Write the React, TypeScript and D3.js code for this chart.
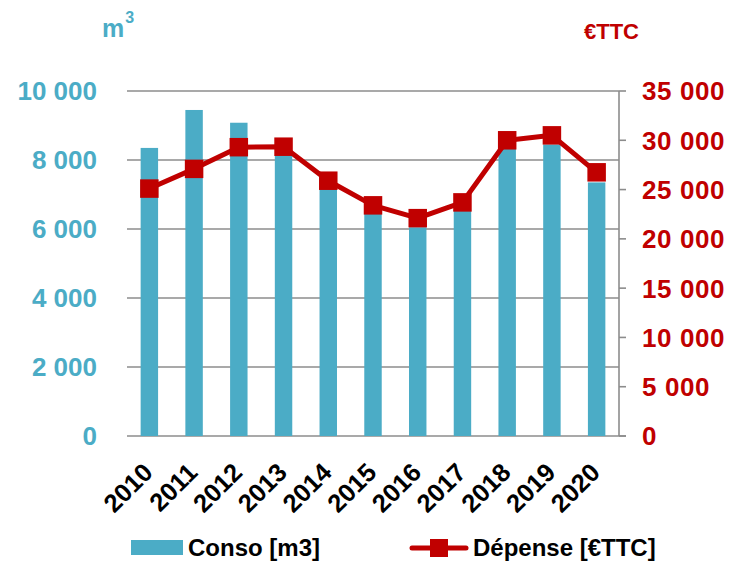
import * as d3 from "d3";
import { useEffect, useRef } from "react";

const years = ["2010", "2011", "2012", "2013", "2014", "2015", "2016", "2017", "2018", "2019", "2020"];
const conso = [8350, 9450, 9080, 8150, 7200, 6450, 6050, 6550, 8350, 8450, 7350];
const depense = [25100, 27100, 29300, 29350, 25900, 23400, 22100, 23700, 30000, 30500, 26750];
const leftTicks = [0, 2000, 4000, 6000, 8000, 10000];
const rightTicks = [0, 5000, 10000, 15000, 20000, 25000, 30000, 35000];

const BLUE = "#4BACC6";
const RED = "#C00000";
const GRAY = "#8c8c8c";
const FONT = "'Liberation Sans', Arial, sans-serif";

export default function App() {
  const ref = useRef<SVGSVGElement>(null);

  const width = 745;
  const height = 566;
  const left = 127;
  const right = 619;
  const top = 91;
  const bottom = 436;

  useEffect(() => {
    const svg = d3.select(ref.current);
    svg.selectAll("*").remove();

    const fmt = (v: number) => d3.format(",")(v).replace(/,/g, " ");

    const x = d3.scaleBand().domain(years).range([left, right]).paddingInner(0.61).paddingOuter(0.305);
    const yL = d3.scaleLinear().domain([0, 10000]).range([bottom, top]);
    const yR = d3.scaleLinear().domain([0, 35000]).range([bottom, top]);

    // grid lines (left axis)
    svg
      .append("g")
      .selectAll("line")
      .data(leftTicks)
      .join("line")
      .attr("x1", left)
      .attr("x2", (d) => (d === 0 ? right + 7 : right))
      .attr("y1", (d) => yL(d))
      .attr("y2", (d) => yL(d))
      .attr("stroke", GRAY)
      .attr("stroke-width", 1.6);

    // left labels
    svg
      .append("g")
      .selectAll("text")
      .data(leftTicks)
      .join("text")
      .attr("x", 97)
      .attr("y", (d) => yL(d))
      .attr("dy", "0.36em")
      .attr("text-anchor", "end")
      .attr("fill", BLUE)
      .attr("font-family", FONT)
      .attr("font-weight", "bold")
      .attr("font-size", 26)
      .text((d) => fmt(d));

    // right axis
    svg
      .append("line")
      .attr("x1", right)
      .attr("x2", right)
      .attr("y1", yR(35000))
      .attr("y2", yR(0))
      .attr("stroke", GRAY)
      .attr("stroke-width", 1.6);
    svg
      .append("g")
      .selectAll("line")
      .data(rightTicks)
      .join("line")
      .attr("x1", right)
      .attr("x2", right + 7)
      .attr("y1", (d) => yR(d))
      .attr("y2", (d) => yR(d))
      .attr("stroke", GRAY)
      .attr("stroke-width", 1.6);
    svg
      .append("g")
      .selectAll("text")
      .data(rightTicks)
      .join("text")
      .attr("x", 642)
      .attr("y", (d) => yR(d))
      .attr("dy", "0.36em")
      .attr("text-anchor", "start")
      .attr("fill", RED)
      .attr("font-family", FONT)
      .attr("font-weight", "bold")
      .attr("font-size", 26)
      .attr("letter-spacing", 0.6)
      .text((d) => fmt(d));

    // bars
    svg
      .append("g")
      .attr("fill", BLUE)
      .selectAll("rect")
      .data(conso)
      .join("rect")
      .attr("x", (d, i) => x(years[i])!)
      .attr("width", x.bandwidth())
      .attr("y", (d) => yL(d))
      .attr("height", (d) => yL(0) - yL(d));

    // line + markers
    const cx = (i: number) => x(years[i])! + x.bandwidth() / 2;
    const line = d3
      .line<number>()
      .x((d, i) => cx(i))
      .y((d) => yR(d));
    svg
      .append("path")
      .datum(depense)
      .attr("d", line)
      .attr("fill", "none")
      .attr("stroke", RED)
      .attr("stroke-width", 5)
      .attr("stroke-linejoin", "round");
    const m = 18.5;
    svg
      .append("g")
      .attr("fill", RED)
      .selectAll("rect")
      .data(depense)
      .join("rect")
      .attr("x", (d, i) => cx(i) - m / 2)
      .attr("y", (d) => yR(d) - m / 2)
      .attr("width", m)
      .attr("height", m);

    // x labels
    svg
      .append("g")
      .selectAll("text")
      .data(years)
      .join("text")
      .attr("transform", (d) => `translate(${x(d)! + x.bandwidth() / 2 + 5},474) rotate(-45)`)
      .attr("text-anchor", "end")
      .attr("fill", "#000")
      .attr("font-family", FONT)
      .attr("font-weight", "bold")
      .attr("font-size", 25.5)
      .text((d) => d);

    // unit titles
    const t1 = svg
      .append("text")
      .attr("x", 102)
      .attr("y", 37)
      .attr("fill", BLUE)
      .attr("font-family", FONT)
      .attr("font-weight", "bold")
      .attr("font-size", 25);
    t1.append("tspan").text("m");
    t1.append("tspan").attr("font-size", 16).attr("dx", 1).attr("dy", -14).text("3");
    svg
      .append("text")
      .attr("x", 584)
      .attr("y", 39)
      .attr("fill", RED)
      .attr("font-family", FONT)
      .attr("font-weight", "bold")
      .attr("font-size", 22)
      .text("€TTC");

    // legend
    svg.append("rect").attr("x", 131).attr("y", 540).attr("width", 52).attr("height", 15).attr("fill", BLUE);
    svg
      .append("text")
      .attr("x", 188)
      .attr("y", 556)
      .attr("font-family", FONT)
      .attr("font-weight", "bold")
      .attr("font-size", 24)
      .text("Conso [m3]");
    svg
      .append("line")
      .attr("x1", 412)
      .attr("x2", 466)
      .attr("y1", 548)
      .attr("y2", 548)
      .attr("stroke", RED)
      .attr("stroke-width", 5)
      .attr("stroke-linecap", "round");
    svg.append("rect").attr("x", 430).attr("y", 539).attr("width", 18).attr("height", 18).attr("fill", RED);
    svg
      .append("text")
      .attr("x", 473)
      .attr("y", 556)
      .attr("font-family", FONT)
      .attr("font-weight", "bold")
      .attr("font-size", 24)
      .text("Dépense [€TTC]");
  }, []);

  return (
    <svg
      ref={ref}
      width={width}
      height={height}
      style={{ position: "absolute", left: 0, top: 0, background: "#fff" }}
    />
  );
}
